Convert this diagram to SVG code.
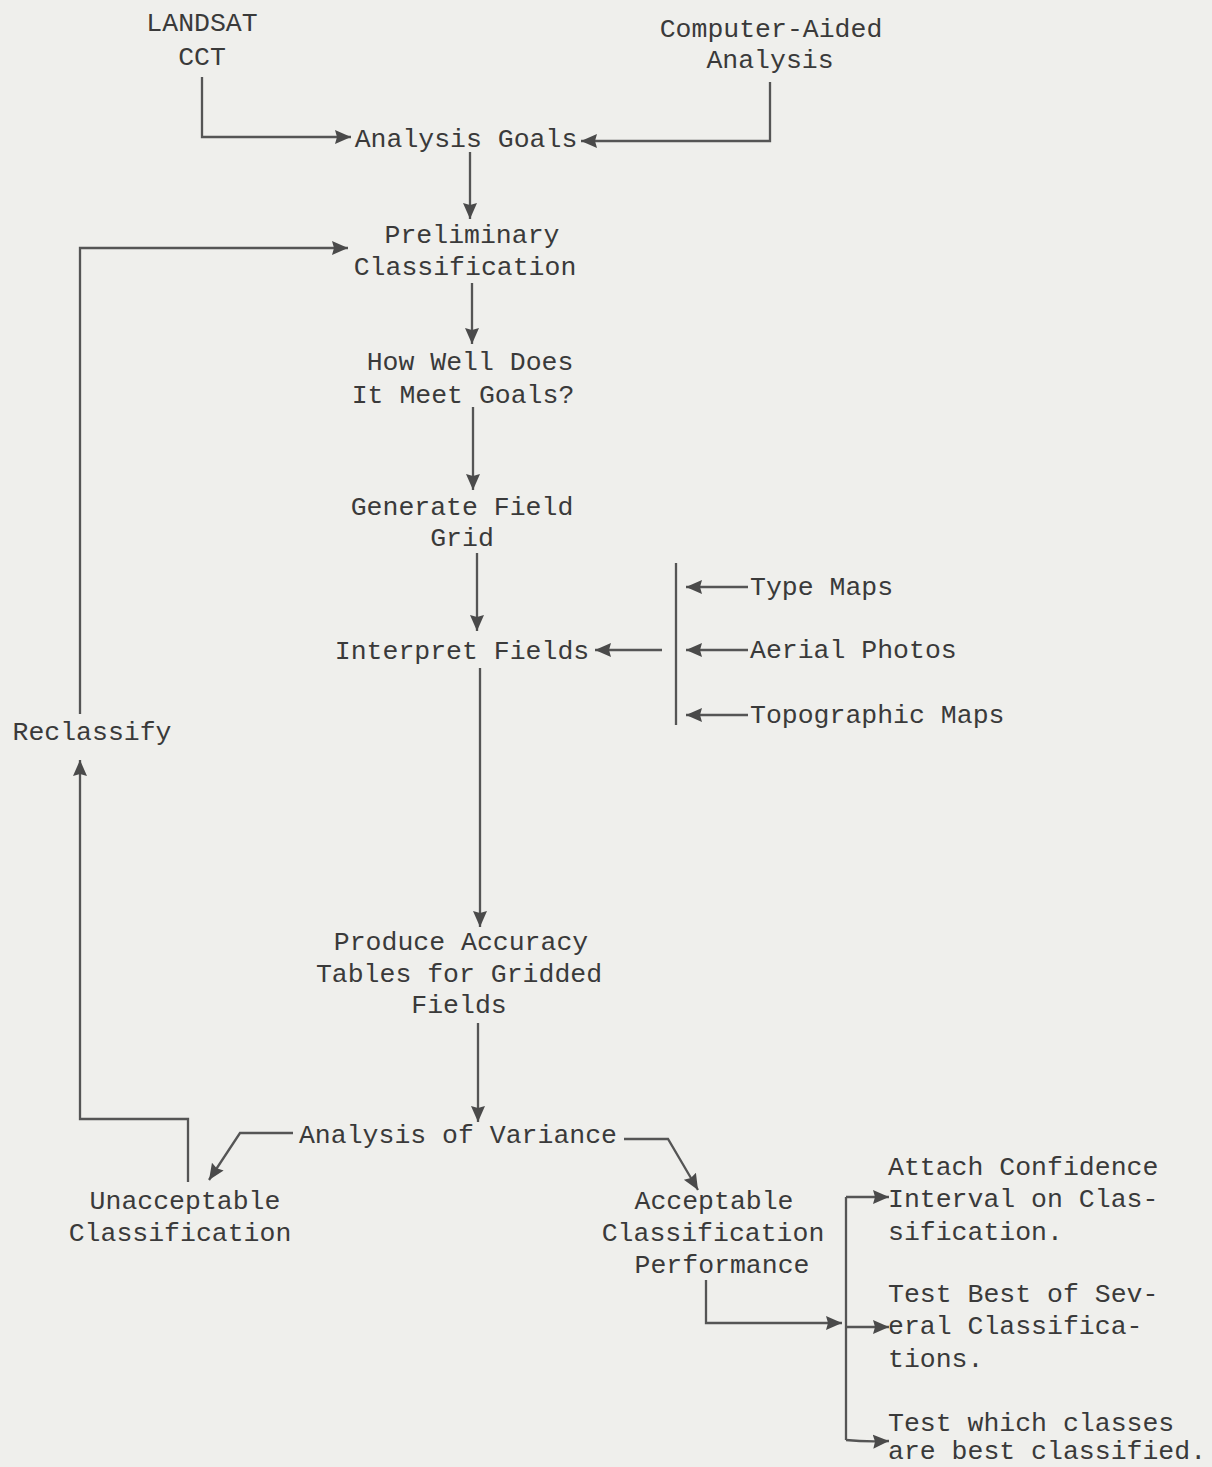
<svg xmlns="http://www.w3.org/2000/svg" width="1212" height="1467" viewBox="0 0 1212 1467">
<defs>
<marker id="ah" markerUnits="userSpaceOnUse" markerWidth="18" markerHeight="16" refX="16" refY="8" orient="auto">
<path d="M0,1 L16,8 L0,15 L2,8 z" fill="#4a4a4a"/>
</marker>
<style>
text{font-family:"Liberation Mono","DejaVu Sans Mono",monospace;font-size:26.5px;fill:#3a3a3a;text-anchor:middle}
text.l{text-anchor:start}
.c path{fill:none;stroke:#555;stroke-width:2.3}
.c path.a{marker-end:url(#ah)}
</style>
</defs>
<rect width="1212" height="1467" fill="#efefec"/>
<g class="c" id="connectors">
<path class="a" d="M202,77 V137 H351"/>
<path class="a" d="M770,82 V141 H581"/>
<path class="a" d="M470,152 V219"/>
<path class="a" d="M80,714 V248 H348"/>
<path class="a" d="M472,283 V344"/>
<path class="a" d="M473,407 V490"/>
<path class="a" d="M477,553 V631"/>
<path class="a" d="M480,668 V927"/>
<path class="a" d="M478,1023 V1122"/>
<path class="a" d="M293,1133 H240 L209,1180"/>
<path class="a" d="M624,1139 H668 L698,1190"/>
<path class="a" d="M188,1182 V1119 H80 V760"/>
<path d="M676,563 V725"/>
<path class="a" d="M748,587 H686"/>
<path class="a" d="M748,650 H686"/>
<path class="a" d="M748,715 H686"/>
<path class="a" d="M662,650 H595"/>
<path class="a" d="M706,1280 V1323 H842"/>
<path d="M846,1197 V1440"/>
<path class="a" d="M846,1197 H889"/>
<path class="a" d="M846,1327 H889"/>
<path class="a" d="M846,1440 Q866,1442 889,1441"/>
</g>
<g id="landsat"><text x="202" y="31">LANDSAT</text><text x="202" y="65">CCT</text></g>
<g id="computer"><text x="771" y="37">Computer-Aided</text><text x="770" y="68">Analysis</text></g>
<g id="goals"><text x="466" y="147">Analysis Goals</text></g>
<g id="prelim"><text x="472" y="243">Preliminary</text><text x="465" y="275">Classification</text></g>
<g id="howwell"><text x="470" y="370">How Well Does</text><text x="463" y="403">It Meet Goals?</text></g>
<g id="generate"><text x="462" y="515">Generate Field</text><text x="462" y="546">Grid</text></g>
<g id="interpret"><text x="462" y="659">Interpret Fields</text></g>
<g id="typemaps"><text class="l" x="750" y="595">Type Maps</text></g>
<g id="aerial"><text class="l" x="750" y="658">Aerial Photos</text></g>
<g id="topo"><text class="l" x="750" y="723">Topographic Maps</text></g>
<g id="reclassify"><text x="92" y="740">Reclassify</text></g>
<g id="produce"><text x="461" y="950">Produce Accuracy</text><text x="459" y="982">Tables for Gridded</text><text x="459" y="1013">Fields</text></g>
<g id="anova"><text x="458" y="1143">Analysis of Variance</text></g>
<g id="unacceptable"><text x="185" y="1209">Unacceptable</text><text x="180" y="1241">Classification</text></g>
<g id="acceptable"><text x="714" y="1209">Acceptable</text><text x="713" y="1241">Classification</text><text x="722" y="1273">Performance</text></g>
<g id="attach"><text class="l" x="888" y="1175">Attach Confidence</text><text class="l" x="888" y="1207">Interval on Clas-</text><text class="l" x="888" y="1240">sification.</text></g>
<g id="testbest"><text class="l" x="888" y="1302">Test Best of Sev-</text><text class="l" x="888" y="1334">eral Classifica-</text><text class="l" x="888" y="1367">tions.</text></g>
<g id="testwhich"><text class="l" x="888" y="1431">Test which classes</text><text class="l" x="888" y="1459">are best classified.</text></g>
</svg>
